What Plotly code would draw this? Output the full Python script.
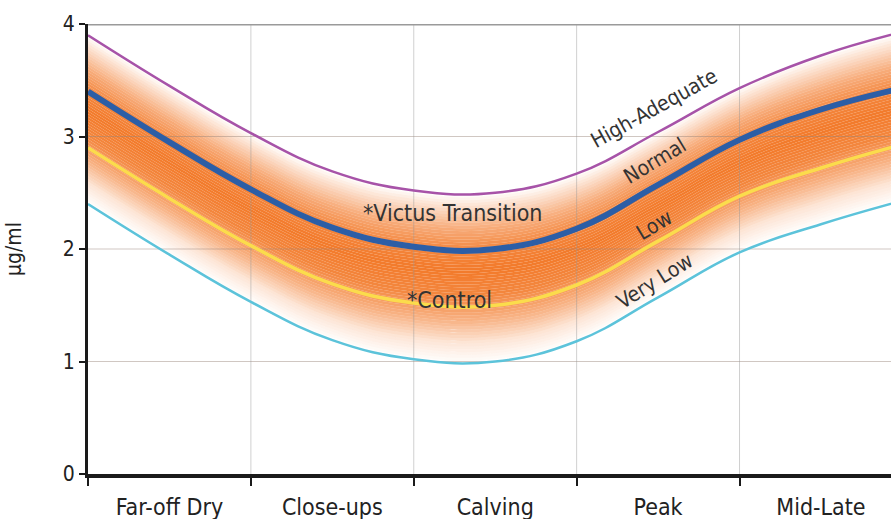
import numpy as np
import plotly.graph_objects as go

# ---- data ----
stages = ["Far-off Dry", "Close-ups", "Calving", "Peak", "Mid-Late"]
x_pts = [0, 0.5, 1, 1.5, 2, 2.5, 3, 3.5, 4, 4.5, 5]
high_adequate = [3.90, 3.45, 3.03, 2.69, 2.52, 2.50, 2.67, 3.04, 3.43, 3.72, 3.93]
normal =        [3.40, 2.95, 2.53, 2.19, 2.02, 2.00, 2.18, 2.57, 2.97, 3.24, 3.43]
low =           [2.90, 2.45, 2.03, 1.69, 1.52, 1.50, 1.68, 2.07, 2.47, 2.72, 2.93]
very_low =      [2.40, 1.95, 1.53, 1.19, 1.02, 1.00, 1.18, 1.57, 1.97, 2.22, 2.43]
y_ticks = [0, 1, 2, 3, 4]

FONT = "DejaVu Sans Condensed, Liberation Sans Narrow, Arial Narrow, DejaVu Sans, sans-serif"
TXT = "#333333"
SMOOTH = 1.2

fig = go.Figure()

# ---- orange gradient band between High-Adequate and Very Low ----
hi = np.array(high_adequate)
lo = np.array(very_low)
n_layers = 60
ts = np.linspace(0, 1, n_layers + 1)
prof_t = [0.0, 0.06, 0.2, 0.33, 0.45, 0.6, 0.75, 0.88, 1.0]
prof_a = [0.0, 0.18, 0.6, 0.88, 0.97, 0.88, 0.55, 0.18, 0.0]
for i, t in enumerate(ts):
    y = hi + t * (lo - hi)
    if i == 0:
        fig.add_trace(go.Scatter(x=x_pts, y=y, mode="lines",
                                 line=dict(width=0, shape="spline", smoothing=SMOOTH),
                                 hoverinfo="skip", showlegend=False))
    else:
        a = float(np.interp((ts[i - 1] + t) / 2, prof_t, prof_a))
        fig.add_trace(go.Scatter(x=x_pts, y=y, mode="lines",
                                 line=dict(width=0, shape="spline", smoothing=SMOOTH),
                                 fill="tonexty", fillcolor=f"rgba(242,118,36,{a:.3f})",
                                 hoverinfo="skip", showlegend=False))

# ---- gridlines (drawn over the band, under the curves) ----
x_max = 4.93
for v in y_ticks[1:4]:
    fig.add_trace(go.Scatter(x=[0, x_max], y=[v, v], mode="lines",
                             line=dict(color="rgba(150,130,120,0.45)", width=1),
                             hoverinfo="skip", showlegend=False))
for b in range(1, len(stages)):
    fig.add_trace(go.Scatter(x=[b, b], y=[0, 4], mode="lines",
                             line=dict(color="rgba(150,150,150,0.45)", width=1),
                             hoverinfo="skip", showlegend=False))

# ---- curves ----
curves = [
    (very_low, "#5cc3da", 2.5),
    (low, "#fbdc4c", 3.5),
    (high_adequate, "#a753a8", 2.5),
    (normal, "#2c5ea6", 6),
]
for ys, col, w in curves:
    fig.add_trace(go.Scatter(x=x_pts, y=ys, mode="lines",
                             line=dict(color=col, width=w, shape="spline", smoothing=SMOOTH),
                             hoverinfo="skip", showlegend=False))

# ---- labels ----
labels = [
    ("High-Adequate", 3.48, 3.25, -29, 21),
    ("Normal", 3.48, 2.78, -31, 21),
    ("Low", 3.48, 2.21, -31, 21),
    ("Very Low", 3.48, 1.72, -32, 21),
    ("*Victus Transition", 2.24, 2.32, 0, 23),
    ("*Control", 2.22, 1.55, 0, 23),
]
for txt, lx, ly, ang, fs in labels:
    fig.add_annotation(x=lx, y=ly, text=txt, showarrow=False, textangle=ang,
                       font=dict(family=FONT, size=fs, color=TXT))

fig.add_shape(type="line", xref="x", yref="y", x0=0, x1=x_max, y0=4, y1=4,
              line=dict(color="#9a9a9a", width=3), layer="above")

fig.update_layout(
    width=891, height=519,
    margin=dict(l=88, r=0, t=24, b=45),
    paper_bgcolor="white", plot_bgcolor="white",
    showlegend=False,
    font=dict(family=FONT, color=TXT),
    xaxis=dict(
        range=[0, x_max], showgrid=False, zeroline=False, automargin=False,
        tickmode="array", tickvals=[i + 0.5 for i in range(len(stages))], ticktext=stages,
        ticks="", tickfont=dict(family=FONT, size=23, color="#222"),
        ticklabelstandoff=9,
        showline=True, linecolor="#1a1a1a", linewidth=4,
        minor=dict(tickvals=list(range(0, len(stages))), ticks="outside", ticklen=8,
                   tickwidth=2, tickcolor="#1a1a1a", showgrid=False),
    ),
    yaxis=dict(
        range=[0, 4], showgrid=False, zeroline=False, automargin=False,
        tickmode="array", tickvals=y_ticks,
        ticks="outside", ticklen=6, tickwidth=2, tickcolor="#1a1a1a",
        tickfont=dict(family=FONT, size=21, color="#222"),
        showline=True, linecolor="#1a1a1a", linewidth=3,
        title=dict(text="µg/ml", font=dict(family=FONT, size=21, color="#222"), standoff=36),
    ),
)

fig.write_html("out.html", config={"displayModeBar": False},
               post_script="document.body.style.margin='0';document.body.style.overflow='hidden';")
